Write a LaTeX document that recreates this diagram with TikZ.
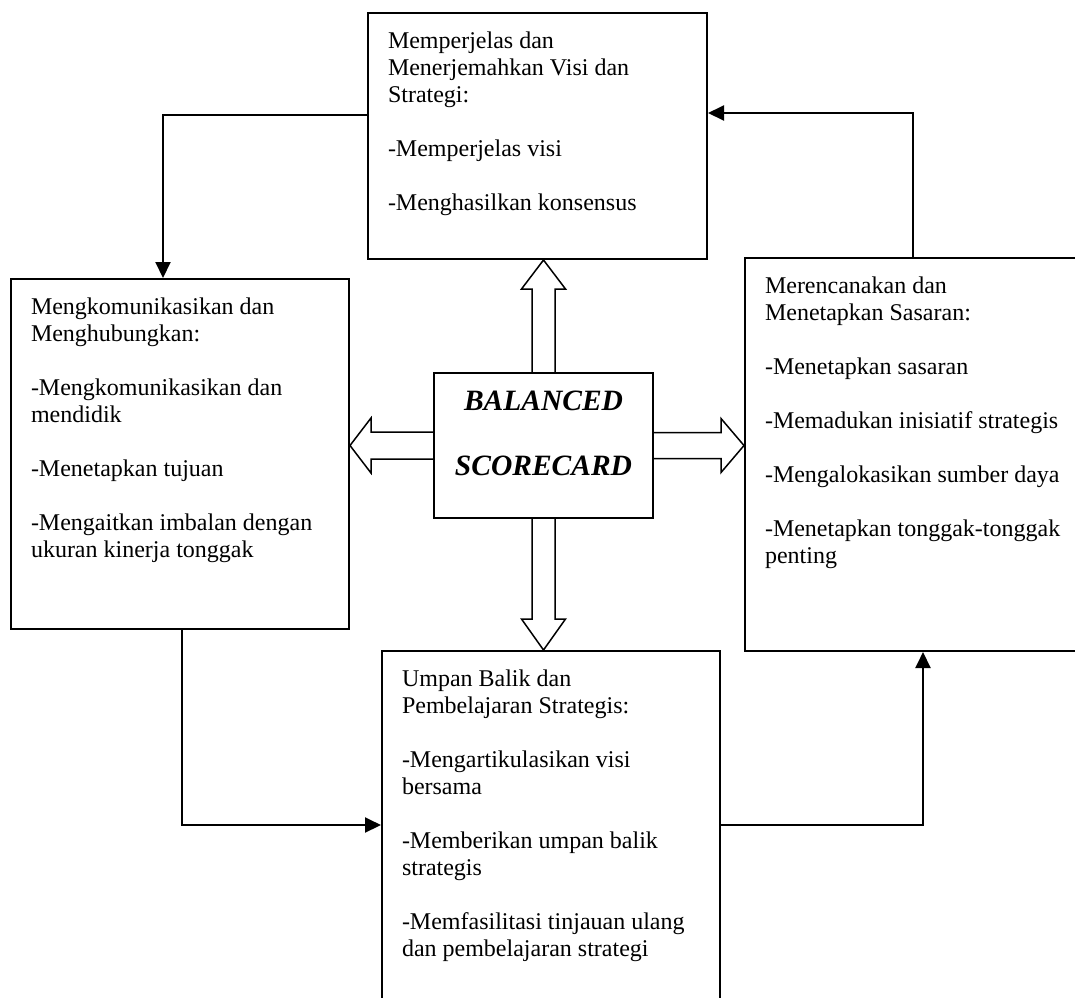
\documentclass[tikz,border=0pt]{standalone}
\usepackage{fontspec}
\setmainfont{Liberation Serif}
\usetikzlibrary{arrows.meta,calc}

\tikzset{
  kotak/.style={draw, line width=2pt, anchor=north west, inner xsep=20pt, inner ysep=19pt,
    font=\fontsize{24}{27}\selectfont},
  pusat/.style={draw, line width=2pt, anchor=north west, inner xsep=0pt, inner ysep=18pt,
    font=\fontsize{29.5}{65}\selectfont\bfseries\itshape},
  garis/.style={line width=2pt, -{Triangle[width=15pt,length=16pt]}},
  blok/.style={line width=1.5pt, line join=miter}
}

\begin{document}
\begin{tikzpicture}[x=1pt,y=-1pt]
  \clip (0,0) rectangle (1075,997);
  \fill[white] (0,0) rectangle (1075,997);

  % kotak-kotak
  \node[kotak] (visi) at (367,12) {\parbox[t][208pt][t]{299pt}{\raggedright
    Memperjelas dan\\Menerjemahkan Visi dan\\Strategi:\\[27pt]-Memperjelas visi\\[27pt]-Menghasilkan konsensus}};
  \node[kotak] (komunikasi) at (10,278) {\parbox[t][312pt][t]{298pt}{\raggedright
    Mengkomunikasikan dan\\Menghubungkan:\\[27pt]-Mengkomunikasikan dan\\mendidik\\[27pt]-Menetapkan tujuan\\[27pt]-Mengaitkan imbalan dengan\\ukuran kinerja tonggak}};
  \node[kotak] (sasaran) at (744,257) {\parbox[t][355pt][t]{305pt}{\raggedright
    Merencanakan dan\\Menetapkan Sasaran:\\[27pt]-Menetapkan sasaran\\[27pt]-Memadukan inisiatif strategis\\[27pt]-Mengalokasikan sumber daya\\[27pt]-Menetapkan tonggak-tonggak\\penting}};
  \node[kotak] (umpan) at (381,650) {\parbox[t][342pt][t]{298pt}{\raggedright
    Umpan Balik dan\\Pembelajaran Strategis:\\[27pt]-Mengartikulasikan visi\\bersama\\[27pt]-Memberikan umpan balik\\strategis\\[27pt]-Memfasilitasi tinjauan ulang\\dan pembelajaran strategi}};
  \node[pusat] (bsc) at (433,372) {\parbox[t][109pt][t]{219pt}{\centering BALANCED\\SCORECARD}};

  % panah blok
  \draw[blok] let \p1=(bsc.north), \p2=(visi.south) in
    (\x1-11.5pt,\y1) -- (\x1-11.5pt,\y2-29pt) -- (\x1-22pt,\y2-29pt) -- (\x1,\y2)
    -- (\x1+22pt,\y2-29pt) -- (\x1+11.5pt,\y2-29pt) -- (\x1+11.5pt,\y1);
  \draw[blok] let \p1=(bsc.south), \p2=(umpan.north) in
    (\x1-11.5pt,\y1) -- (\x1-11.5pt,\y2+31pt) -- (\x1-22pt,\y2+31pt) -- (\x1,\y2)
    -- (\x1+22pt,\y2+31pt) -- (\x1+11.5pt,\y2+31pt) -- (\x1+11.5pt,\y1);
  \draw[blok] let \p1=(bsc.west), \p2=(komunikasi.east) in
    (\x1,\y1+13.5pt) -- (\x2+21pt,\y1+13.5pt) -- (\x2+21pt,\y1+27.5pt) -- (\x2,\y1)
    -- (\x2+21pt,\y1-27.5pt) -- (\x2+21pt,\y1-13.5pt) -- (\x1,\y1-13.5pt);
  \draw[blok] let \p1=(bsc.east), \p2=(sasaran.west) in
    (\x1,\y1+13pt) -- (\x2-23pt,\y1+13pt) -- (\x2-23pt,\y1+27pt) -- (\x2,\y1)
    -- (\x2-23pt,\y1-27pt) -- (\x2-23pt,\y1-13pt) -- (\x1,\y1-13pt);

  % garis siklus
  \draw[garis] ([yshift=-103pt]visi.north west) -| ([xshift=153pt]komunikasi.north west);
  \draw[garis] ([xshift=172pt]komunikasi.south west) |- ([yshift=-175pt]umpan.north west);
  \draw[garis] ([yshift=-175pt]umpan.north east) -| ([xshift=179pt]sasaran.south west);
  \draw[garis] ([xshift=169pt]sasaran.north west) |- ([yshift=-101pt]visi.north east);
\end{tikzpicture}
\end{document}
